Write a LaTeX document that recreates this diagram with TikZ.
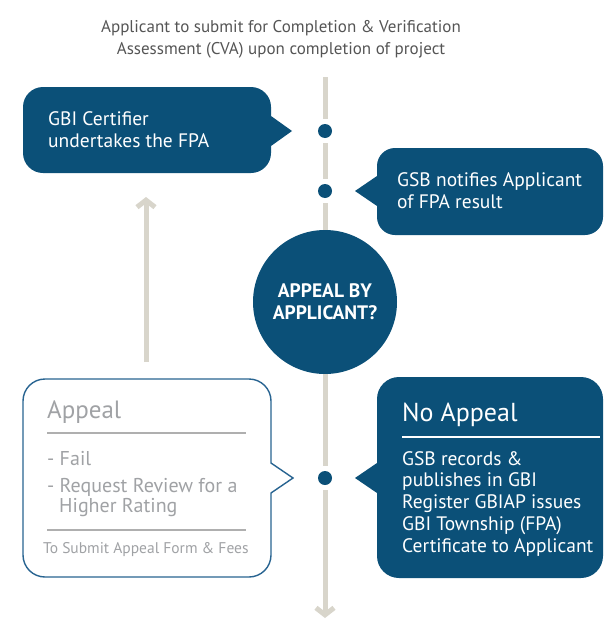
\documentclass[tikz,border=0pt]{standalone}
\usepackage{fontspec}
\setmainfont{PT Sans}
\usetikzlibrary{arrows.meta}
\definecolor{cvblue}{RGB}{11,80,120}
\definecolor{cvline}{RGB}{216,213,203}
\definecolor{cvtitle}{RGB}{85,85,85}
\definecolor{cvgrey}{RGB}{160,162,165}
\definecolor{cvrule}{RGB}{175,175,175}
\definecolor{cvborder}{RGB}{40,100,145}
% bubble with pointer on the right: L,T,R,B,r,tipx,tipy
\newcommand\bubR[7]{(#1+#5,#2) -- (#3-#5,#2) arc[start angle=-90,end angle=0,radius=#5] -- (#3,#7-15) -- (#6,#7) -- (#3,#7+15) -- (#3,#4-#5) arc[start angle=0,end angle=90,radius=#5] -- (#1+#5,#4) arc[start angle=90,end angle=180,radius=#5] -- (#1,#2+#5) arc[start angle=180,end angle=270,radius=#5] -- cycle}
% bubble with pointer on the left
\newcommand\bubL[7]{(#1+#5,#2) -- (#3-#5,#2) arc[start angle=-90,end angle=0,radius=#5] -- (#3,#4-#5) arc[start angle=0,end angle=90,radius=#5] -- (#1+#5,#4) arc[start angle=90,end angle=180,radius=#5] -- (#1,#7+15) -- (#6,#7) -- (#1,#7-15) -- (#1,#2+#5) arc[start angle=180,end angle=270,radius=#5] -- cycle}
\begin{document}
\begin{tikzpicture}[x=1pt,y=-1pt,
  boxtxt/.style={anchor=base west,inner sep=0pt,align=left,text=white,font=\fontsize{19.5}{21.7}\selectfont},
  greytxt/.style={anchor=base west,inner sep=0pt,align=left,text=cvgrey},
  dotnode/.style={circle,fill=cvblue,minimum size=14pt,inner sep=0pt},
  spine/.style={draw=cvline,line width=5pt},
  seg/.style={spine,shorten <=5pt,shorten >=5pt},
  arrowtip/.style={-{Straight Barb[length=7pt,width=18pt]}}
]
\useasboundingbox (0,0) rectangle (605,621);

% title
\node[anchor=base,inner sep=0pt,align=center,text=cvtitle,font=\fontsize{17}{21.5}\selectfont] (title) at (281,54)
  {Applicant to submit for Completion \& Verification\\Assessment (CVA) upon completion of project};

% spine nodes
\coordinate (top) at (325,77);
\node[dotnode] (d1) at (325,131) {};
\node[dotnode] (d2) at (325,191) {};
\node[circle,fill=cvblue,minimum size=144pt,inner sep=0pt,text=white,align=center,font=\bfseries\fontsize{19.5}{22}\selectfont] (q) at (325,302) {APPEAL BY\\APPLICANT?};
\node[dotnode] (d3) at (325,478) {};
\coordinate (bot) at (325,618);

\draw[spine,shorten >=5pt] (top) -- (d1);
\draw[seg] (d1) -- (d2);
\draw[spine,shorten <=5pt] (d2) -- (q);
\draw[spine,shorten >=5pt] (q) -- (d3);
\draw[spine,shorten <=5pt,arrowtip] (d3) -- (bot);

% box 1
\fill[cvblue] \bubR{23}{87}{271}{173}{20}{292}{131};
\node[boxtxt] (b1) at (48,147) {GBI Certifier\\undertakes the FPA};

% box 2
\fill[cvblue] \bubL{377}{148}{603}{235}{18}{355}{191};
\node[boxtxt] (b2) at (397,208) {GSB notifies Applicant\\of FPA result};

% up arrow
\coordinate (upS) at (146,362);
\coordinate (upE) at (146,197);
\draw[spine,arrowtip] (upS) -- (upE);

% appeal box
\draw[cvborder,line width=1.4pt,fill=white] \bubR{23}{379}{271}{577}{22}{293}{478};
\node[greytxt,font=\fontsize{25}{28}\selectfont] (ap) at (47,418) {Appeal};
\draw[cvrule,line width=1.4pt] (47,433) -- (246,433);
\node[greytxt,font=\fontsize{20}{20}\selectfont] (ap1) at (47,465) {- Fail};
\node[greytxt,font=\fontsize{20}{20}\selectfont] (ap2) at (47,512) {- Request Review for a\\\hspace*{12pt}Higher Rating};
\draw[cvrule,line width=1.4pt] (47,530) -- (246,530);
\node[greytxt,font=\fontsize{15.5}{16}\selectfont] (ap3) at (43,553) {To Submit Appeal Form \& Fees};

% no appeal box
\fill[cvblue] \bubL{377}{377}{603}{578}{22}{355}{478};
\node[boxtxt,font=\fontsize{26}{28}\selectfont] (na) at (402,421) {No Appeal};
\draw[white,line width=1.4pt] (402,437) -- (600,437);
\node[boxtxt] (na1) at (402,552) {GSB records \&\\publishes in GBI\\Register GBIAP issues\\GBI Township (FPA)\\Certificate to Applicant};
\end{tikzpicture}
\end{document}
